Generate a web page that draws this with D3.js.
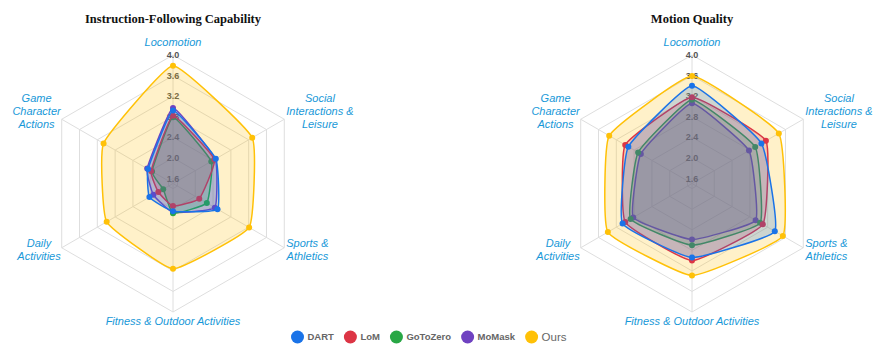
<!DOCTYPE html>
<html>
<head>
<meta charset="utf-8">
<script src="https://cdn.jsdelivr.net/npm/d3@7"></script>
<style>
body { margin: 0; background: #fff; }
</style>
</head>
<body>
<script>
var categories = ["Locomotion", "Social Interactions & Leisure", "Sports & Athletics",
    "Fitness & Outdoor Activities", "Daily Activities", "Game Character Actions"];
var categoryLines = [["Locomotion"], ["Social", "Interactions &", "Leisure"], ["Sports &", "Athletics"],
    ["Fitness & Outdoor Activities"], ["Daily", "Activities"], ["Game", "Character", "Actions"]];
var seriesNames = ["DART", "LoM", "GoToZero", "MoMask", "Ours"];
var seriesColors = ["#1a73e8", "#dc3545", "#28a745", "#6f42c1", "#ffc107"];
var tickValues = [1.6, 2.0, 2.4, 2.8, 3.2, 3.6, 4.0];

// Instruction-Following Capability
var ifDART     = [2.92, 2.46, 2.50, 2.04, 2.03, 2.06];
var ifLoM      = [2.82, 2.43, 2.09, 1.94, 1.83, 1.99];
var ifGoToZero = [2.79, 2.36, 2.26, 2.08, 1.72, 1.97];
var ifMoMask   = [2.97, 2.45, 2.44, 2.06, 1.94, 2.08];
var ifOurs     = [3.79, 3.28, 3.21, 3.16, 2.99, 3.06];

// Motion Quality
var mqDART     = [3.40, 3.06, 3.36, 2.94, 3.06, 2.93];
var mqLoM      = [3.18, 3.16, 3.09, 3.00, 3.00, 3.00];
var mqGoToZero = [3.13, 2.92, 3.03, 2.70, 2.88, 2.71];
var mqMoMask   = [3.06, 2.78, 2.93, 2.59, 2.82, 2.65];
var mqOurs     = [3.59, 3.45, 3.54, 3.29, 3.39, 3.36];

var width = 896, height = 352;

var svg = d3.select("body").append("svg")
    .attr("width", width)
    .attr("height", height);

var rScale = d3.scaleLinear().domain([1.5, 4.0]).range([0, 128.5]);
var angle = d3.scaleLinear().domain([0, categories.length]).range([0, 2 * Math.PI]);

drawRadar(173, 183.5, "Instruction-Following Capability", [ifDART, ifLoM, ifGoToZero, ifMoMask, ifOurs]);
drawRadar(692, 183.5, "Motion Quality", [mqDART, mqLoM, mqGoToZero, mqMoMask, mqOurs]);
drawLegend();

function drawRadar(cx, cy, title, data) {
    var g = svg.append("g");

    function pt(i, v) {
        var a = angle(i), r = rScale(v);
        return [cx + r * Math.sin(a), cy - r * Math.cos(a)];
    }

    g.append("text")
        .attr("x", cx)
        .attr("y", 23)
        .attr("text-anchor", "middle")
        .style("font-family", "'Liberation Serif', 'Times New Roman', serif")
        .style("font-weight", "bold")
        .style("font-size", "12.5px")
        .style("fill", "#111")
        .text(title);

    // grid rings
    g.selectAll(".ring")
        .data(tickValues)
        .enter()
        .append("polygon")
        .attr("points", function(t) {
            return categories.map(function(c, i) { return pt(i, t).join(","); }).join(" ");
        })
        .style("fill", "none")
        .style("stroke", "#dedede")
        .style("stroke-width", 1);

    // spokes
    g.selectAll(".spoke")
        .data(categories)
        .enter()
        .append("line")
        .attr("x1", cx).attr("y1", cy)
        .attr("x2", function(c, i) { return pt(i, 4.0)[0]; })
        .attr("y2", function(c, i) { return pt(i, 4.0)[1]; })
        .style("stroke", "#dedede")
        .style("stroke-width", 1);

    // tick labels
    g.selectAll(".tick")
        .data(tickValues)
        .enter()
        .append("text")
        .attr("x", cx)
        .attr("y", function(t) { return cy - rScale(t); })
        .attr("dy", "0.35em")
        .attr("text-anchor", "middle")
        .style("font-family", "'Liberation Sans', Arial, sans-serif")
        .style("font-weight", "bold")
        .style("font-size", "9px")
        .style("fill", "#555")
        .text(function(t) { return t.toFixed(1); });

    // category labels
    var lineH = 13;
    categoryLines.forEach(function(lines, i) {
        var v = pt(i, 4.0);
        var a = angle(i);
        var sx = Math.sin(a), sy = -Math.cos(a);
        var lab = g.append("text")
            .attr("text-anchor", "middle")
            .style("font-family", "'Liberation Sans', Arial, sans-serif")
            .style("font-style", "italic")
            .style("font-size", "11px")
            .style("fill", "#1798d8");
        var tspans = lines.map(function(l) { return lab.append("tspan").text(l); });
        var w = d3.max(tspans, function(t) { return t.node().getComputedTextLength(); });
        var bx, by;
        if (Math.abs(sx) < 0.01) {
            bx = v[0];
            by = sy < 0 ? v[1] - 13 : v[1] + 9;
        } else {
            bx = sx > 0 ? v[0] + 2 + w / 2 : v[0] - 1 - w / 2;
            by = sy < 0 ? v[1] - 8 : v[1] + 2;
        }
        var y0 = by - (lines.length - 1) * lineH / 2;
        tspans.forEach(function(t, k) {
            t.attr("x", bx).attr("y", y0 + k * lineH).attr("dy", "0.35em");
        });
    });

    var line = d3.line().curve(d3.curveCardinalClosed.tension(0.65));

    // series, Ours drawn first so DART ends on top
    for (var s = data.length - 1; s >= 0; s--) {
        var pts = data[s].map(function(v, i) { return pt(i, v); });
        g.append("path")
            .attr("d", line(pts))
            .style("fill", seriesColors[s])
            .style("fill-opacity", 0.22)
            .style("stroke", seriesColors[s])
            .style("stroke-width", 1.5);
        g.selectAll(".pt" + s)
            .data(pts)
            .enter()
            .append("circle")
            .attr("cx", function(d) { return d[0]; })
            .attr("cy", function(d) { return d[1]; })
            .attr("r", 3)
            .style("fill", seriesColors[s]);
    }
}

function drawLegend() {
    var lg = svg.append("g");
    var x = 291, y = 337;
    seriesNames.forEach(function(name, i) {
        lg.append("circle")
            .attr("cx", x + 6.5)
            .attr("cy", y)
            .attr("r", 6.5)
            .style("fill", seriesColors[i]);
        var t = lg.append("text")
            .attr("x", x + 16.5)
            .attr("y", y)
            .attr("dy", "0.35em")
            .style("font-family", "'Liberation Sans', Arial, sans-serif")
            .style("font-weight", name == "Ours" ? "normal" : "bold")
            .style("font-size", name == "Ours" ? "11.5px" : "9.5px")
            .style("fill", "#666")
            .text(name);
        x += 16.5 + t.node().getComputedTextLength() + 10;
    });
}
</script>
</body>
</html>
